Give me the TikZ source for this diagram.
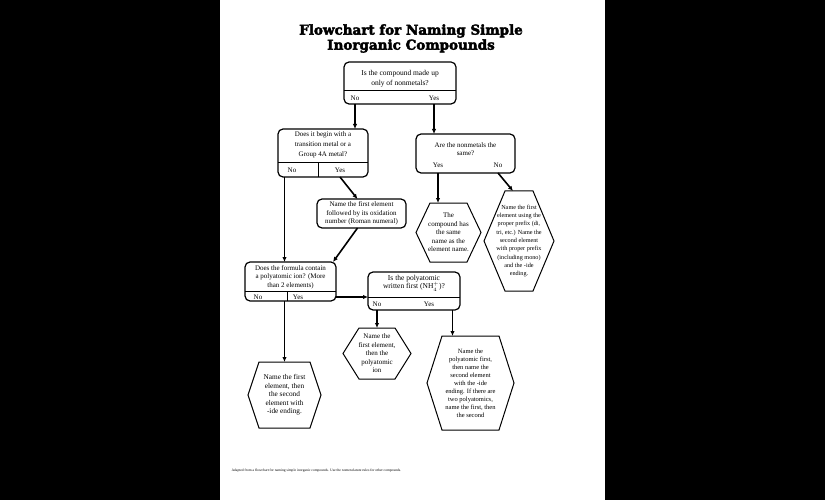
\documentclass[tikz,border=0pt]{standalone}
\usepackage{fontspec}
\setmainfont{Liberation Serif}
\newfontfamily\titlefont[UprightFont={* Bold}, FakeBold=3]{DejaVu Serif}
\usetikzlibrary{arrows.meta}

\tikzset{
	qbox/.style={draw, line width=1.2pt, rounded corners=5pt, inner sep=0pt, outer sep=0pt},
	hexnode/.style={inner sep=0pt, outer sep=0pt, align=center},
	hexline/.style={line width=1pt, line join=miter},
	txt/.style={align=center, inner sep=0pt},
	ans/.style={inner sep=0pt},
	arr/.style={line width=1.6pt, -{Latex[length=5pt,width=4.5pt]}},
}
% hexagon round a node: name, inset of the flat top
\newcommand{\hexborder}[2]{%
	\draw[hexline] (#1.west) -- ([xshift=#2]#1.north west) -- ([xshift=-#2]#1.north east)
		-- (#1.east) -- ([xshift=-#2]#1.south east) -- ([xshift=#2]#1.south west) -- cycle;}

\begin{document}
\begin{tikzpicture}[x=1pt, y=-1pt, every node/.style={font=\fontsize{7}{8.5}\selectfont}]
	\useasboundingbox (0,0) rectangle (825,500);
	\fill[black] (0,0) rectangle (825,500);
	\fill[white] (220,0) rectangle (605,500);

	\node[txt, font=\titlefont\fontsize{13.5}{15}\selectfont] (title) at (411,38.5)
		{Flowchart for Naming Simple\\Inorganic Compounds};

	% first question
	\node[qbox, minimum width=112pt, minimum height=42pt] (q1) at (400,83) {};
	\node[txt, font=\fontsize{7.5}{10.5}\selectfont] (q1t) at (400,78.5) {Is the compound made up\\only of nonmetals?};
	\draw[line width=1pt] (q1.west |- 0,91) -- (q1.east |- 0,91);
	\node[ans] (q1no) at (355,98) {No};
	\node[ans] (q1yes) at (434,98) {Yes};

	% metals side
	\node[qbox, minimum width=90pt, minimum height=48pt] (q2) at (323,153) {};
	\node[txt, font=\fontsize{7}{10}\selectfont] (q2t) at (323,145) {Does it begin with a\\transition metal or a\\Group 4A metal?};
	\draw[line width=1pt] (q2.west |- 0,163) -- (q2.east |- 0,163);
	\draw[line width=0.6pt] (318,163) -- (q2.south -| 318,0);
	\node[ans] (q2no) at (292,170) {No};
	\node[ans] (q2yes) at (340,170) {Yes};

	\node[qbox, minimum width=89pt, minimum height=29pt] (q4) at (361.5,213.5) {};
	\node[txt] (q4t) at (361.5,213.5) {Name the first element\\followed by its oxidation\\number (Roman numeral)};

	\node[qbox, minimum width=91pt, minimum height=39pt] (q5) at (290.5,281.5) {};
	\node[txt] (q5t) at (290.5,277) {Does the formula contain\\a polyatomic ion? (More\\than 2 elements)};
	\draw[line width=1pt] (q5.west |- 0,291) -- (q5.east |- 0,291);
	\draw[line width=0.6pt] (287,291) -- (q5.south -| 287,0);
	\node[ans] (q5no) at (258,297) {No};
	\node[ans] (q5yes) at (298,297) {Yes};

	\node[qbox, minimum width=92pt, minimum height=38pt] (q6) at (414,291) {};
	\node[txt, font=\fontsize{7.5}{8.5}\selectfont] (q6t) at (414,283) {Is the polyatomic\\written first (NH$_4^+$)?};
	\draw[line width=1pt] (q6.west |- 0,297) -- (q6.east |- 0,297);
	\node[ans] (q6no) at (377,304) {No};
	\node[ans] (q6yes) at (429,304) {Yes};

	% nonmetals side
	\node[qbox, minimum width=99pt, minimum height=39pt] (q3) at (465.5,153.5) {};
	\node[txt] (q3t) at (465.5,149) {Are the nonmetals the\\same?};
	\node[ans] (q3no) at (498,165) {No};
	\node[ans] (q3yes) at (438,165) {Yes};

	% answers
	\node[hexnode, minimum width=65pt, minimum height=59pt] (hA) at (448.5,232.5)
		{The\\compound has\\the same\\name as the\\element name.};
	\hexborder{hA}{14pt}
	\node[hexnode, minimum width=70pt, minimum height=100pt, font=\fontsize{6.2}{8.3}\selectfont] (hB) at (519,241)
		{Name the first\\element using the\\proper prefix (di,\\tri, etc.) Name the\\second element\\with proper prefix\\(including mono)\\and the -ide\\ending.};
	\hexborder{hB}{21pt}
	\node[hexnode, minimum width=68pt, minimum height=51pt] (hC) at (377,353.5)
		{Name the\\first element,\\then the\\polyatomic\\ion};
	\hexborder{hC}{16pt}
	\node[hexnode, minimum width=87pt, minimum height=94pt, font=\fontsize{6.5}{8}\selectfont] (hD) at (470.5,383)
		{Name the\\polyatomic first,\\then name the\\second element\\with the -ide\\ending. If there are\\two polyatomics,\\name the first, then\\the second};
	\hexborder{hD}{15pt}
	\node[hexnode, minimum width=73pt, minimum height=66pt, font=\fontsize{7.3}{8.5}\selectfont] (hE) at (284.5,395)
		{Name the first\\element, then\\the second\\element with\\-ide ending.};
	\hexborder{hE}{11pt}

	% connectors
	\draw[arr] (q1no |- q1.south) -- (q1no |- q2.north);
	\draw[arr] (q1yes |- q1.south) -- (q1yes |- q3.north);
	\draw[arr] (hE.north |- q2.south) -- (hE.north |- q5.north);
	\draw[arr] (q2yes |- q2.south) -- ([xshift=-4pt]q4.north);
	\draw[arr] ([xshift=-4pt]q4.south) -- ([xshift=-3pt]q5.north east);
	\draw[arr] (q3yes |- q3.south) -- (q3yes |- hA.north);
	\draw[arr] (q3no |- q3.south) -- ([xshift=-6pt]hB.north);
	\draw[arr] (q5.east |- q5yes) -- (q6.west |- q5yes);
	\draw[arr] (hE.north |- q5.south) -- (hE.north);
	\draw[arr] (q6no |- q6.south) -- (q6no |- hC.north);
	\coordinate (d6) at ([xshift=-18pt]hD.north);
	\draw[arr] (d6 |- q6.south) -- (d6);

	\node[font=\fontsize{3.6}{4}\selectfont, anchor=west] (foot) at (228,471)
		{Adapted from a flowchart for naming simple inorganic compounds. Use the nomenclature rules for other compounds.};
\end{tikzpicture}
\end{document}
